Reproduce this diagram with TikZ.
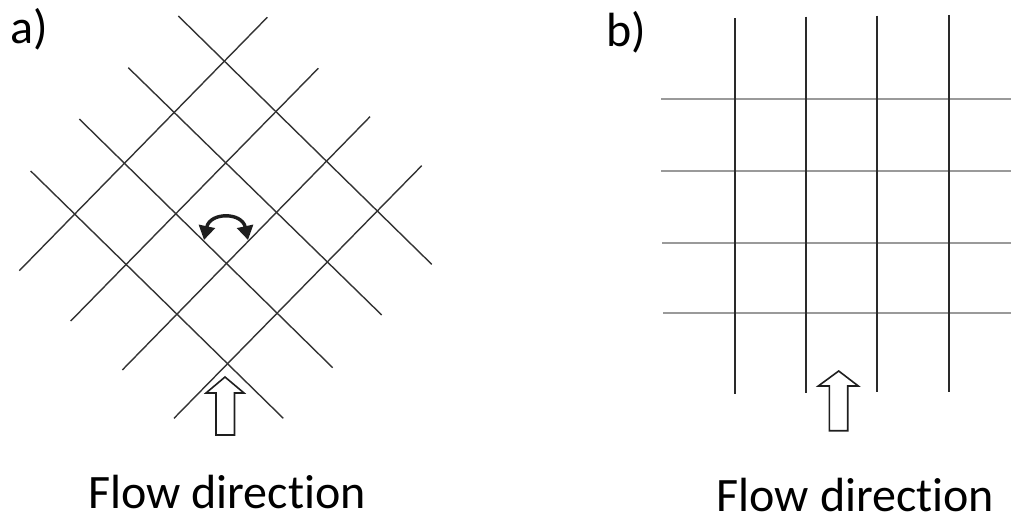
\documentclass[tikz,border=0pt]{standalone}
\usepackage{fontspec}
\setmainfont{Carlito}[RawFeature={-liga;-clig;-calt;-dlig}]
\usetikzlibrary{arrows.meta}
\definecolor{gridA}{HTML}{333333}
\definecolor{gridV}{HTML}{2A2A2A}
\definecolor{gridH}{HTML}{9A9A9A}
\definecolor{ink}{HTML}{1E1E1E}
\tikzset{
  diagline/.style={draw=gridA, line width=1.4pt},
  vline/.style={draw=gridV, line width=2.3pt},
  hline/.style={draw=gridH, line width=2pt},
  hollowarrow/.style={draw=ink, line width=1.6pt, fill=white, line join=miter},
  turnarrow/.style={draw=ink, line width=3.4pt, {Triangle[length=14pt,width=16pt]}-{Triangle[length=14pt,width=16pt]}},
  lbl/.style={inner sep=0pt, anchor=base west, text depth=0pt, font=\fontsize{48}{56}\selectfont, text=black}
}
\begin{document}
\begin{tikzpicture}[x=1pt,y=-1pt]
\useasboundingbox (0,0) rectangle (1011,516);
% ---- panel a: rotated mesh ----
\foreach \ax/\ay/\bx/\by in {178.3/16/431.7/264.3, 128.3/67.7/381.7/315, 79.3/119/332.7/367.7, 30.7/171/283.3/418.3,
  267.3/17.3/19.3/270.7, 318.3/68.3/70.7/321, 370/116.7/122.3/370, 421.7/165.7/174/418.3}
  \draw[diagline] (\ax,\ay) -- (\bx,\by);
% double curved arrow
\coordinate (tl) at (204,240);
\coordinate (tr) at (248,240);
\draw[turnarrow] (tl) .. controls (210,212) and (242,212) .. (tr);
% hollow flow arrow a
\draw[hollowarrow] (225,377) -- (244,393) -- (234.5,393) -- (234.5,435) -- (216,435) -- (216,393) -- (206,393) -- cycle;
% ---- panel b: square mesh ----
\foreach \y/\x in {99.3/661, 171.3/661, 242.7/662, 313.3/663.3}
  \draw[hline] (\x,\y) -- (1011,\y);
\foreach \x/\t/\b in {734.7/18.3/394.3, 805.7/16.7/393.3, 876.7/15.7/392.3, 949.3/15/391.7}
  \draw[vline] (\x,\t) -- (\x,\b);
% hollow flow arrow b
\draw[hollowarrow] (838.7,371) -- (858.3,386) -- (847.7,386) -- (847.7,430.7) -- (829.3,430.7) -- (829.3,386) -- (818.3,386) -- cycle;
% ---- labels ----
\node[lbl] (la) at (10.5,44) {a)};
\node[lbl] (lb) at (606.5,46.7) {b)};
\node[lbl] (fa) at (88,508.3) {Flow direc\kern0pt tion};
\node[lbl] (fb) at (716.5,511.7) {Flow direc\kern0pt tion};
\end{tikzpicture}
\end{document}
